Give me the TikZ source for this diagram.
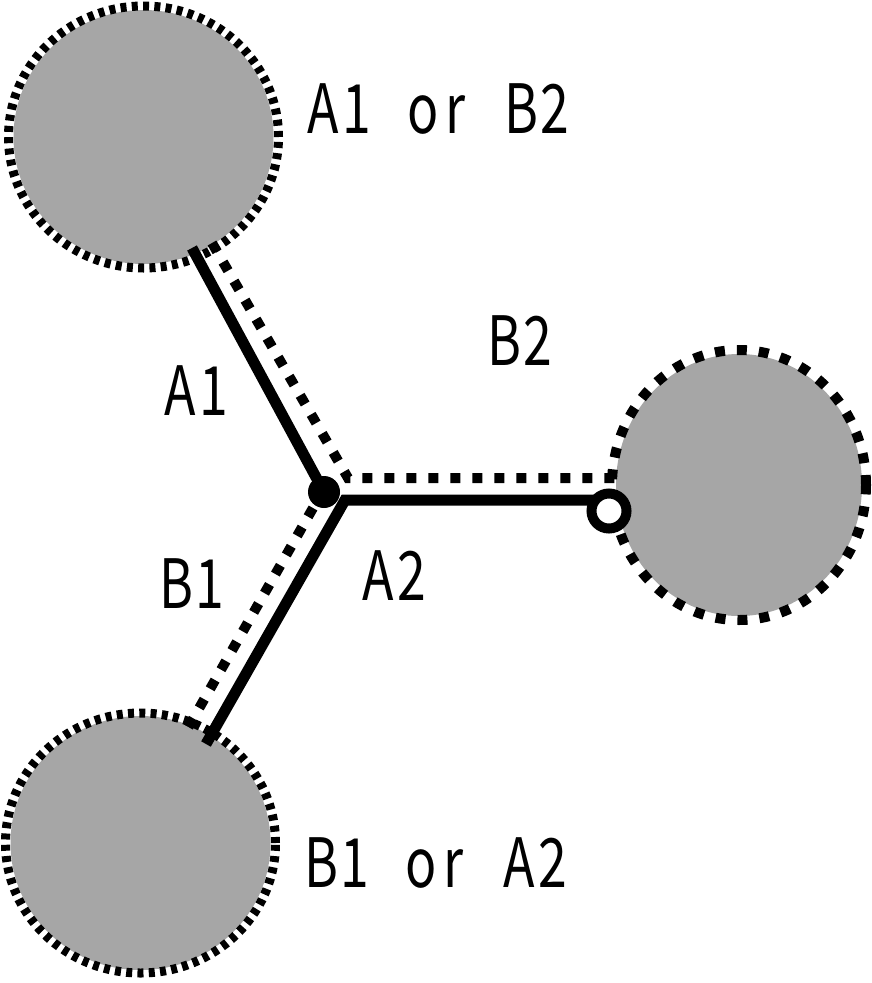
\documentclass[tikz,border=0pt]{standalone}
\usepackage{fontspec}
\newfontfamily\lblfont{Noto Sans CJK JP}
\newcommand{\gc}[1]{\makebox[33pt][c]{\scalebox{0.76}[1]{#1}}}
\newcommand{\gsp}{\hspace*{33pt}}
\definecolor{blobgray}{RGB}{166,166,166}
\begin{document}
\begin{tikzpicture}[x=1pt,y=-1pt,
  blob/.style={fill=blobgray},
  ring/.style={line width=9pt, dash pattern=on 6pt off 5.3pt},
  bigring/.style={line width=10pt, dash pattern=on 10pt off 12pt},
  solidline/.style={line width=11pt},
  dotline/.style={line width=10pt, dash pattern=on 10pt off 12pt},
  lbl/.style={anchor=base west, inner sep=0pt, font=\lblfont\fontsize{68}{68}\selectfont}]
\useasboundingbox (0,0) rectangle (871,983);
% centres of the three discs
\coordinate (TL) at (143.5,137);
\coordinate (RC) at (739,485);
\coordinate (BL) at (140.5,843);
% discs
\fill[blob] (TL) ellipse [x radius=130pt, y radius=127pt];
\draw[ring] (TL) ellipse [x radius=135pt, y radius=131pt];
\fill[blob] (RC) ellipse [x radius=123pt, y radius=131pt];
\draw[bigring] (RC) ellipse [x radius=127pt, y radius=135pt];
\fill[blob] (BL) ellipse [x radius=130pt, y radius=127pt];
\draw[ring] (BL) ellipse [x radius=135pt, y radius=130pt];
% connector end points
\coordinate (a1s) at (192,248);
\coordinate (hcorner) at (345,500);
\coordinate (hend) at (600,500);
\coordinate (b1e) at (206,744);
\coordinate (d1s) at (212,243);
\coordinate (dcorner) at (348,478);
\coordinate (d1e) at (615,478);
\coordinate (d2s) at (313,508);
\coordinate (d2e) at (185,733);
% dotted paths
\draw[dotline] (d1s) -- (dcorner) -- (d1e);
\draw[dotline] (d2s) -- (d2e);
% solid paths
\node[circle, fill=black, inner sep=0pt, minimum size=32pt] (J) at (324,492) {};
\draw[solidline] (a1s) -- (J.center);
\draw[solidline, miter limit=10] (hend) -- (hcorner) -- (b1e);
\node[circle, draw=black, line width=10pt, fill=white, inner sep=0pt, minimum size=35pt] (O) at (609,511) {};
% labels
\node[lbl] (l1) at (307,133) {\gc{A}\gc{1}\gsp\gc{o}\gc{r}\gsp\gc{B}\gc{2}};
\node[lbl] (l2) at (164,415) {\gc{A}\gc{1}};
\node[lbl] (l3) at (488,365) {\gc{B}\gc{2}};
\node[lbl] (l4) at (160,608) {\gc{B}\gc{1}};
\node[lbl] (l5) at (362,600) {\gc{A}\gc{2}};
\node[lbl] (l6) at (305,887) {\gc{B}\gc{1}\gsp\gc{o}\gc{r}\gsp\gc{A}\gc{2}};
\end{tikzpicture}
\end{document}
